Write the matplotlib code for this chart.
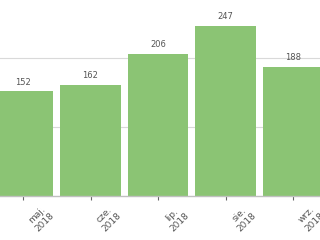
import matplotlib
matplotlib.use('Agg')
import matplotlib.pyplot as plt

months = ['maj.\n2018', 'cze.\n2018', 'lip.\n2018', 'sie.\n2018', 'wrz.\n2018']
values = [152, 162, 206, 247, 188]

bar_color = '#8bc474'
text_color = '#555555'

fig = plt.figure(figsize=(3.2, 2.4), dpi=100)
ax = fig.add_axes([0, 44 / 240, 1, 196 / 240])

x = list(range(len(values)))
ax.bar(x, values, width=0.9, color=bar_color, zorder=2)

# value labels above each bar
for i, v in enumerate(values):
    ax.annotate(str(v), (i, v), xytext=(0, 3.5), textcoords='offset points',
                ha='center', va='bottom', fontsize=6, color=text_color, zorder=3)

ax.set_xlim(-0.341, 4.4)
ax.set_ylim(0, 285)

ax.set_yticks([100, 200])
ax.yaxis.grid(True, color='#d9d9d9', linewidth=0.8, zorder=0)
ax.tick_params(axis='y', left=False, labelleft=False)

ax.set_xticks(x)
ax.set_xticklabels([])
ax.tick_params(axis='x', direction='out', length=3, width=0.8, color='#666666')

for s in ['top', 'left', 'right']:
    ax.spines[s].set_visible(False)
ax.spines['bottom'].set_color('#c0c0c0')
ax.spines['bottom'].set_linewidth(1)

# rotated month labels (the last one runs off the right edge, as in the source)
trans = ax.get_xaxis_transform()
for i, lab in enumerate(months):
    ax.text(i + 0.26, -0.115, lab, transform=trans, rotation=45,
            ha='center', va='center', multialignment='center',
            rotation_mode='anchor', fontsize=6.5, color=text_color,
            linespacing=1.35, clip_on=False)

plt.savefig('out.png', dpi=100)
